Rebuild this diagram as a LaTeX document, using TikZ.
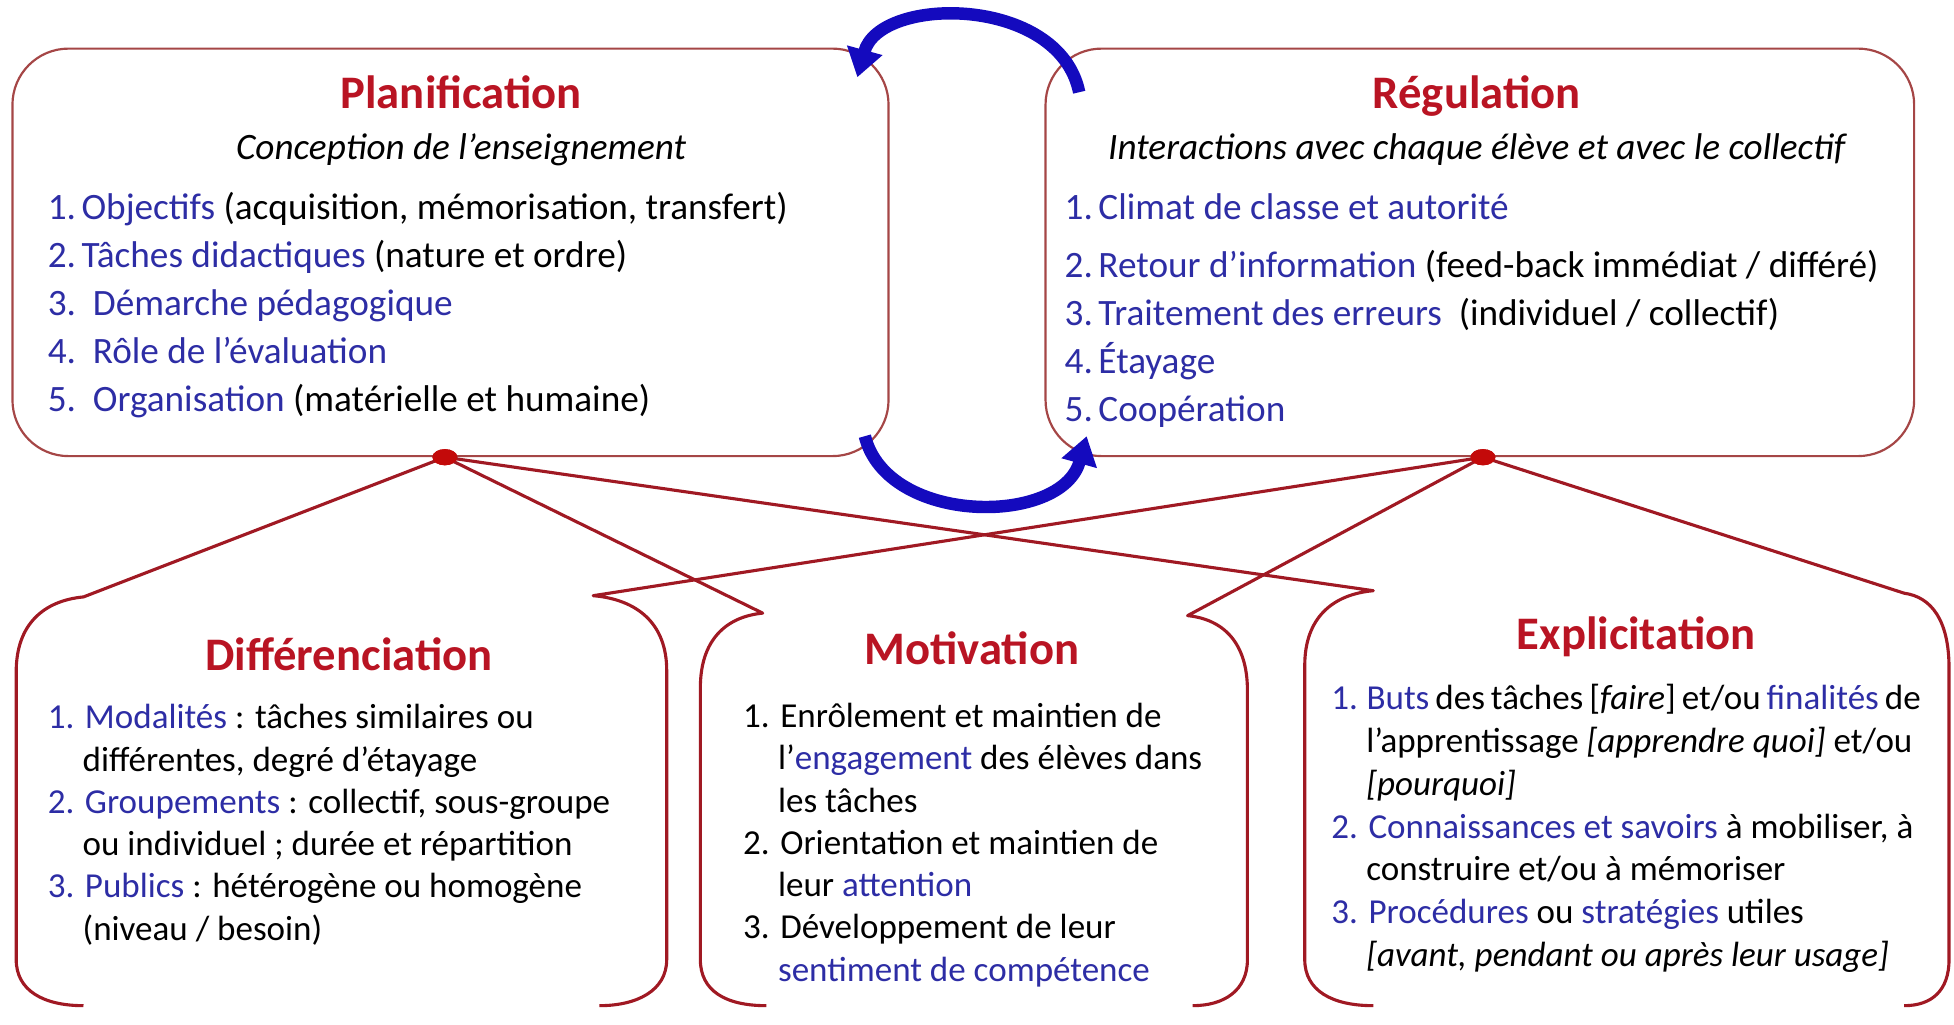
\documentclass[tikz,border=0pt]{standalone}
\usepackage{fontspec}
\setmainfont{Carlito}
\usetikzlibrary{positioning,arrows.meta,shapes.geometric,calc}

\definecolor{titlered}{RGB}{185,20,35}
\definecolor{itemblue}{RGB}{45,45,165}
\definecolor{arcblue}{RGB}{20,10,190}
\definecolor{linkred}{RGB}{160,25,35}
\definecolor{boxred}{RGB}{165,70,70}
\definecolor{dotred}{RGB}{195,10,10}

\newcommand{\blu}[1]{\textcolor{itemblue}{#1}}
\newcommand{\indline}{\hspace*{5.6mm}}

\begin{document}
\begin{tikzpicture}[x=0.2mm,y=-0.2mm,
    bigbox/.style={rectangle,draw=boxred,line width=0.35mm,rounded corners=9mm,minimum width=140.6mm,minimum height=65.4mm},
    titre/.style={text=titlered,font=\fontsize{21.3}{25}\selectfont\bfseries,inner sep=0pt,anchor=base},
    soustitre/.style={font=\fontsize{17}{20}\selectfont\itshape,inner sep=0pt},
    toplist/.style={align=left,inner sep=0pt,anchor=north west,font=\fontsize{17}{21.9}\selectfont},
    lowlist/.style={align=left,inner sep=0pt,anchor=north west,font=\fontsize{16}{19.3}\selectfont},
    link/.style={draw=linkred,line width=0.5mm,line join=round},
    dot/.style={ellipse,fill=dotred,minimum width=4mm,minimum height=2.6mm,inner sep=0pt},
    cycle/.style={draw=arcblue,line width=2mm,-{Triangle[length=4.5mm,width=5.6mm]}}
  ]
  \useasboundingbox (0,0) rectangle (1568,822);

  % the two top boxes
  \node[bigbox] (plan) at (361.5,202.5) {};
  \node[bigbox,minimum width=139.4mm] (regu) at (1187.5,202.5) {};

  \node[titre] (ptitle) at (370,87) {Planification};
  \node[soustitre,below=4mm of ptitle.base] (psub) {Conception de l’enseignement};
  \node[toplist] (plist) at (38,154) {%
    \blu{1.\hspace{0.15em}Objectifs} (acquisition, mémorisation, transfert)\\
    \blu{2.\hspace{0.15em}Tâches didactiques} (nature et ordre)\\
    \blu{3.\ \ Démarche pédagogique}\\
    \blu{4.\ \ Rôle de l’évaluation}\\
    \blu{5.\ \ Organisation} (matérielle et humaine)};

  \node[titre] (rtitle) at (1185,87) {Régulation};
  \node[soustitre,below=4mm of rtitle.base] (rsub) {Interactions avec chaque élève et avec le collectif};
  \node[toplist] (rlist) at (854,155) {%
    \blu{1.\hspace{0.15em}Climat de classe et autorité}\\[1.6mm]
    \blu{2.\hspace{0.15em}Retour d’information} (feed-back immédiat / différé)\\
    \blu{3.\hspace{0.15em}Traitement des erreurs}\ \ (individuel / collectif)\\
    \blu{4.\hspace{0.15em}Étayage}\\
    \blu{5.\hspace{0.15em}Coopération}};

  % the cycle between them
  \coordinate (cycA) at (866,74);
  \coordinate (cycB) at (688,62);
  \coordinate (cycC) at (694,350);
  \coordinate (cycD) at (872,350);
  \draw[cycle] (cycA) .. controls (850,-4) and (706,-4) .. (cycB);
  \draw[cycle] (cycC) .. controls (712,422) and (852,422) .. (cycD);

  % the three lower parts
  \node[titre] (dtitle) at (280,538) {Différenciation};
  \node[lowlist] (dlist) at (38,565) {%
    \blu{1. Modalités} : tâches similaires ou\\
    \indline différentes, degré d’étayage\\
    \blu{2. Groupements} : collectif, sous-groupe\\
    \indline ou individuel ; durée et répartition\\
    \blu{3. Publics} : hétérogène ou homogène\\
    \indline (niveau / besoin)};

  \node[titre] (mtitle) at (780,533) {Motivation};
  \node[lowlist] (mlist) at (596,564) {%
    1. Enrôlement et maintien de\\
    \indline l’\blu{engagement} des élèves dans\\
    \indline les tâches\\
    2. Orientation et maintien de\\
    \indline leur \blu{attention}\\
    3. Développement de leur\\
    \indline \blu{sentiment de compétence}};

  \node[titre] (etitle) at (1313,521) {Explicitation};
  \node[lowlist,font=\fontsize{16}{19.5}\selectfont] (elist) at (1068,549) {%
    {\spaceskip=0.17em\relax\blu{1. Buts} des tâches [\textit{faire}] et/ou \blu{finalités} de}\\
    \indline l’apprentissage \textit{[apprendre quoi]} et/ou\\
    \indline \textit{[pourquoi]}\\
    \blu{2. Connaissances et savoirs} à mobiliser, à\\
    \indline construire et/ou à mémoriser\\
    \blu{3. Procédures} ou \blu{stratégies} utiles\\
    \indline \textit{[avant, pendant ou après leur usage]}};

  % bracket tips
  \coordinate (dL) at (67,479);
  \coordinate (dR) at (476,478);
  \coordinate (mL) at (612,492);
  \coordinate (mR) at (953,494);
  \coordinate (eL) at (1102,474);
  \coordinate (eR) at (1528,476);

  \node[dot] (pdot) at ([xshift=-0.9mm]plan.south) {};
  \node[dot] (rdot) at ([xshift=0.5mm]regu.south) {};

  % links and brackets
  \draw[link] (pdot.center) -- (dL) .. controls (35,482) and (13,501) .. (13,539)
    -- (13,770) .. controls (13,795) and (35,807) .. (67,807);
  \draw[link] (pdot.center) -- (mL) .. controls (582,495) and (562,514) .. (562,552)
    -- (562,770) .. controls (562,795) and (582,807) .. (615,807);
  \draw[link] (pdot.center) -- (eL) .. controls (1069,477) and (1047,496) .. (1047,534)
    -- (1047,770) .. controls (1047,795) and (1069,807) .. (1102,807);
  \draw[link] (rdot.center) -- (dR) .. controls (511,481) and (535,500) .. (535,538)
    -- (535,770) .. controls (535,795) and (511,807) .. (481,807);
  \draw[link] (rdot.center) -- (mR) .. controls (982,497) and (1001,516) .. (1001,554)
    -- (1001,770) .. controls (1001,795) and (982,807) .. (957,807);
  \draw[link] (rdot.center) -- (eR) .. controls (1550,479) and (1564,498) .. (1564,536)
    -- (1564,770) .. controls (1564,795) and (1550,807) .. (1528,807);

  \node[dot] at (pdot) {};
  \node[dot] at (rdot) {};
\end{tikzpicture}
\end{document}
